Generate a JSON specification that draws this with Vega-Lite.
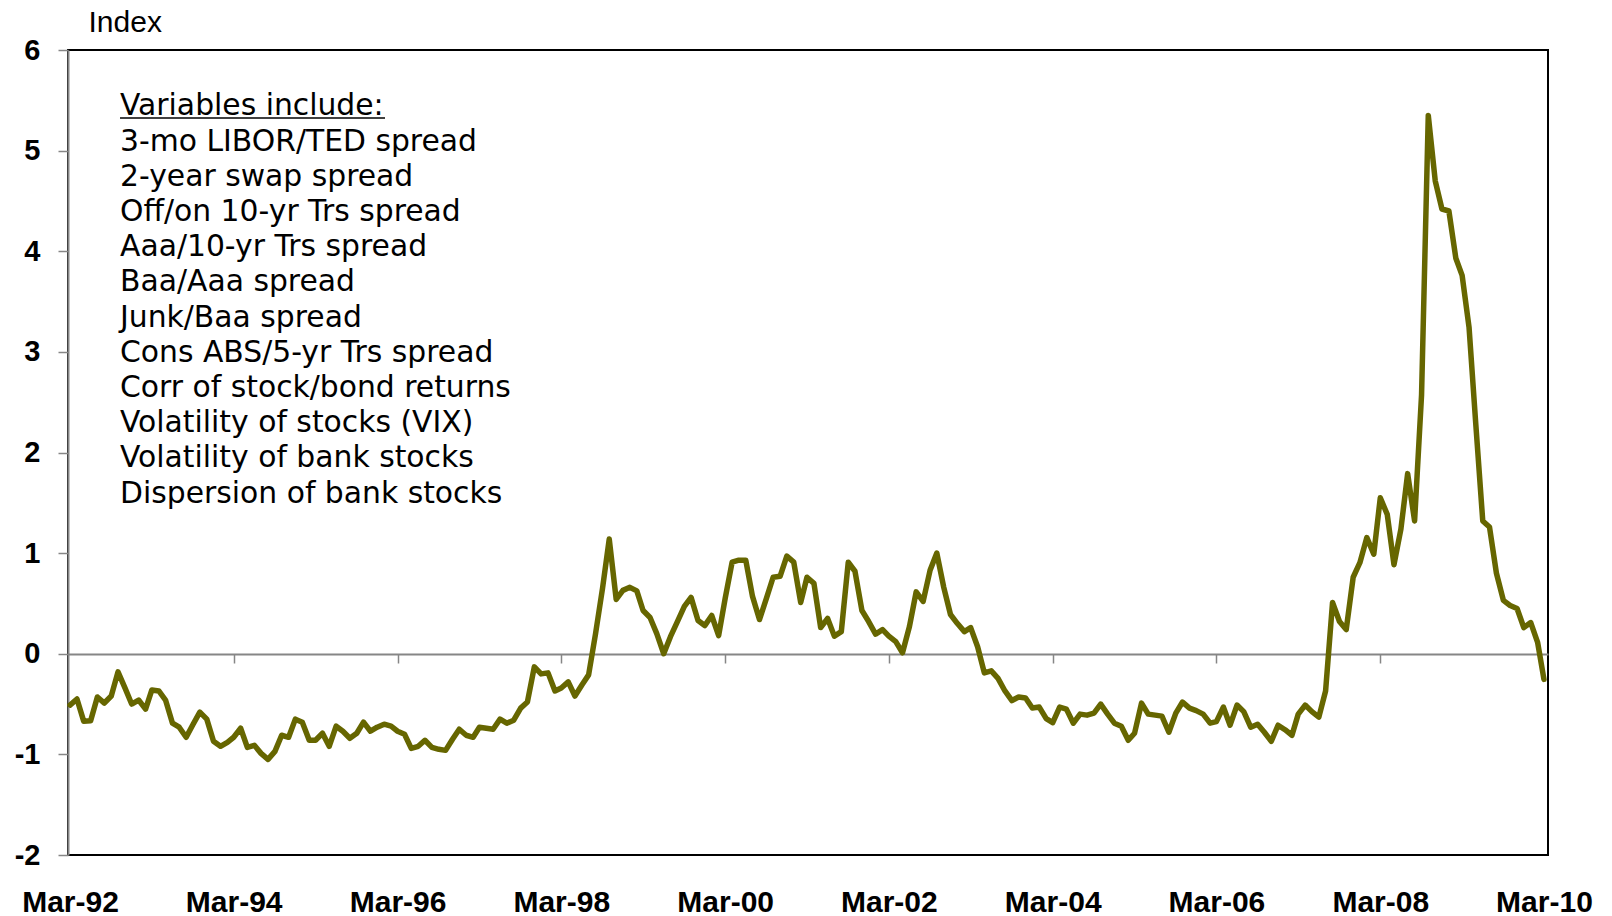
{
  "$schema": "https://vega.github.io/schema/vega-lite/v6.json",
  "width": 1480,
  "height": 805,
  "autosize": {"type": "none"},
  "padding": {"left": 68, "top": 50, "right": 64, "bottom": 61},
  "background": "white",
  "config": {"view": {"stroke": "#000000", "strokeWidth": 2}, "axis": {"grid": false}},
  "data": {"values": [
    {"date":"1992-03-01","v":-0.51},{"date":"1992-04-01","v":-0.45},{"date":"1992-05-01","v":-0.67},{"date":"1992-06-01","v":-0.665},{"date":"1992-07-01","v":-0.43},{"date":"1992-08-01","v":-0.49},{"date":"1992-09-01","v":-0.42},{"date":"1992-10-01","v":-0.18},{"date":"1992-11-01","v":-0.34},{"date":"1992-12-01","v":-0.50},
    {"date":"1993-01-01","v":-0.46},{"date":"1993-02-01","v":-0.55},{"date":"1993-03-01","v":-0.36},{"date":"1993-04-01","v":-0.37},{"date":"1993-05-01","v":-0.46},{"date":"1993-06-01","v":-0.69},{"date":"1993-07-01","v":-0.73},{"date":"1993-08-01","v":-0.83},{"date":"1993-09-01","v":-0.70},{"date":"1993-10-01","v":-0.58},{"date":"1993-11-01","v":-0.65},{"date":"1993-12-01","v":-0.87},
    {"date":"1994-01-01","v":-0.92},{"date":"1994-02-01","v":-0.88},{"date":"1994-03-01","v":-0.83},{"date":"1994-04-01","v":-0.74},{"date":"1994-05-01","v":-0.93},{"date":"1994-06-01","v":-0.91},{"date":"1994-07-01","v":-0.99},{"date":"1994-08-01","v":-1.05},{"date":"1994-09-01","v":-0.97},{"date":"1994-10-01","v":-0.81},{"date":"1994-11-01","v":-0.83},{"date":"1994-12-01","v":-0.65},
    {"date":"1995-01-01","v":-0.68},{"date":"1995-02-01","v":-0.86},{"date":"1995-03-01","v":-0.86},{"date":"1995-04-01","v":-0.79},{"date":"1995-05-01","v":-0.92},{"date":"1995-06-01","v":-0.72},{"date":"1995-07-01","v":-0.77},{"date":"1995-08-01","v":-0.84},{"date":"1995-09-01","v":-0.79},{"date":"1995-10-01","v":-0.68},{"date":"1995-11-01","v":-0.77},{"date":"1995-12-01","v":-0.73},
    {"date":"1996-01-01","v":-0.70},{"date":"1996-02-01","v":-0.72},{"date":"1996-03-01","v":-0.77},{"date":"1996-04-01","v":-0.80},{"date":"1996-05-01","v":-0.94},{"date":"1996-06-01","v":-0.92},{"date":"1996-07-01","v":-0.86},{"date":"1996-08-01","v":-0.93},{"date":"1996-09-01","v":-0.95},{"date":"1996-10-01","v":-0.96},{"date":"1996-11-01","v":-0.85},{"date":"1996-12-01","v":-0.75},
    {"date":"1997-01-01","v":-0.81},{"date":"1997-02-01","v":-0.83},{"date":"1997-03-01","v":-0.73},{"date":"1997-04-01","v":-0.74},{"date":"1997-05-01","v":-0.75},{"date":"1997-06-01","v":-0.65},{"date":"1997-07-01","v":-0.69},{"date":"1997-08-01","v":-0.66},{"date":"1997-09-01","v":-0.54},{"date":"1997-10-01","v":-0.48},{"date":"1997-11-01","v":-0.13},{"date":"1997-12-01","v":-0.20},
    {"date":"1998-01-01","v":-0.19},{"date":"1998-02-01","v":-0.37},{"date":"1998-03-01","v":-0.34},{"date":"1998-04-01","v":-0.28},{"date":"1998-05-01","v":-0.42},{"date":"1998-06-01","v":-0.31},{"date":"1998-07-01","v":-0.21},{"date":"1998-08-01","v":0.20},{"date":"1998-09-01","v":0.65},{"date":"1998-10-01","v":1.14},{"date":"1998-11-01","v":0.54},{"date":"1998-12-01","v":0.63},
    {"date":"1999-01-01","v":0.66},{"date":"1999-02-01","v":0.625},{"date":"1999-03-01","v":0.43},{"date":"1999-04-01","v":0.36},{"date":"1999-05-01","v":0.20},{"date":"1999-06-01","v":0.00},{"date":"1999-07-01","v":0.17},{"date":"1999-08-01","v":0.32},{"date":"1999-09-01","v":0.47},{"date":"1999-10-01","v":0.56},{"date":"1999-11-01","v":0.33},{"date":"1999-12-01","v":0.28},
    {"date":"2000-01-01","v":0.38},{"date":"2000-02-01","v":0.18},{"date":"2000-03-01","v":0.55},{"date":"2000-04-01","v":0.91},{"date":"2000-05-01","v":0.93},{"date":"2000-06-01","v":0.93},{"date":"2000-07-01","v":0.57},{"date":"2000-08-01","v":0.34},{"date":"2000-09-01","v":0.55},{"date":"2000-10-01","v":0.76},{"date":"2000-11-01","v":0.77},{"date":"2000-12-01","v":0.97},
    {"date":"2001-01-01","v":0.91},{"date":"2001-02-01","v":0.51},{"date":"2001-03-01","v":0.76},{"date":"2001-04-01","v":0.70},{"date":"2001-05-01","v":0.26},{"date":"2001-06-01","v":0.35},{"date":"2001-07-01","v":0.175},{"date":"2001-08-01","v":0.22},{"date":"2001-09-01","v":0.91},{"date":"2001-10-01","v":0.82},{"date":"2001-11-01","v":0.43},{"date":"2001-12-01","v":0.32},
    {"date":"2002-01-01","v":0.195},{"date":"2002-02-01","v":0.24},{"date":"2002-03-01","v":0.175},{"date":"2002-04-01","v":0.12},{"date":"2002-05-01","v":0.01},{"date":"2002-06-01","v":0.27},{"date":"2002-07-01","v":0.615},{"date":"2002-08-01","v":0.52},{"date":"2002-09-01","v":0.83},{"date":"2002-10-01","v":1.00},{"date":"2002-11-01","v":0.66},{"date":"2002-12-01","v":0.39},
    {"date":"2003-01-01","v":0.30},{"date":"2003-02-01","v":0.22},{"date":"2003-03-01","v":0.26},{"date":"2003-04-01","v":0.07},{"date":"2003-05-01","v":-0.19},{"date":"2003-06-01","v":-0.17},{"date":"2003-07-01","v":-0.245},{"date":"2003-08-01","v":-0.37},{"date":"2003-09-01","v":-0.465},{"date":"2003-10-01","v":-0.43},{"date":"2003-11-01","v":-0.44},{"date":"2003-12-01","v":-0.54},
    {"date":"2004-01-01","v":-0.53},{"date":"2004-02-01","v":-0.645},{"date":"2004-03-01","v":-0.685},{"date":"2004-04-01","v":-0.53},{"date":"2004-05-01","v":-0.55},{"date":"2004-06-01","v":-0.69},{"date":"2004-07-01","v":-0.60},{"date":"2004-08-01","v":-0.61},{"date":"2004-09-01","v":-0.59},{"date":"2004-10-01","v":-0.50},{"date":"2004-11-01","v":-0.60},{"date":"2004-12-01","v":-0.69},
    {"date":"2005-01-01","v":-0.72},{"date":"2005-02-01","v":-0.86},{"date":"2005-03-01","v":-0.79},{"date":"2005-04-01","v":-0.49},{"date":"2005-05-01","v":-0.60},{"date":"2005-06-01","v":-0.61},{"date":"2005-07-01","v":-0.62},{"date":"2005-08-01","v":-0.78},{"date":"2005-09-01","v":-0.59},{"date":"2005-10-01","v":-0.48},{"date":"2005-11-01","v":-0.54},{"date":"2005-12-01","v":-0.565},
    {"date":"2006-01-01","v":-0.60},{"date":"2006-02-01","v":-0.69},{"date":"2006-03-01","v":-0.675},{"date":"2006-04-01","v":-0.53},{"date":"2006-05-01","v":-0.71},{"date":"2006-06-01","v":-0.51},{"date":"2006-07-01","v":-0.575},{"date":"2006-08-01","v":-0.73},{"date":"2006-09-01","v":-0.70},{"date":"2006-10-01","v":-0.78},{"date":"2006-11-01","v":-0.87},{"date":"2006-12-01","v":-0.71},
    {"date":"2007-01-01","v":-0.755},{"date":"2007-02-01","v":-0.81},{"date":"2007-03-01","v":-0.60},{"date":"2007-04-01","v":-0.51},{"date":"2007-05-01","v":-0.575},{"date":"2007-06-01","v":-0.63},{"date":"2007-07-01","v":-0.37},{"date":"2007-08-01","v":0.51},{"date":"2007-09-01","v":0.32},{"date":"2007-10-01","v":0.24},{"date":"2007-11-01","v":0.76},{"date":"2007-12-01","v":0.905},
    {"date":"2008-01-01","v":1.155},{"date":"2008-02-01","v":0.99},{"date":"2008-03-01","v":1.55},{"date":"2008-04-01","v":1.385},{"date":"2008-05-01","v":0.885},{"date":"2008-06-01","v":1.24},{"date":"2008-07-01","v":1.79},{"date":"2008-08-01","v":1.32},{"date":"2008-09-01","v":2.57},{"date":"2008-10-01","v":5.35},{"date":"2008-11-01","v":4.70},{"date":"2008-12-01","v":4.42},
    {"date":"2009-01-01","v":4.40},{"date":"2009-02-01","v":3.93},{"date":"2009-03-01","v":3.76},{"date":"2009-04-01","v":3.24},{"date":"2009-05-01","v":2.28},{"date":"2009-06-01","v":1.32},{"date":"2009-07-01","v":1.26},{"date":"2009-08-01","v":0.80},{"date":"2009-09-01","v":0.53},{"date":"2009-10-01","v":0.48},{"date":"2009-11-01","v":0.45},{"date":"2009-12-01","v":0.26},
    {"date":"2010-01-01","v":0.31},{"date":"2010-02-01","v":0.11},{"date":"2010-03-01","v":-0.255}
  ]},
  "resolve": {"axis": {"x": "independent", "y": "independent"}},
  "layer": [
    {
      "mark": {"type": "line", "color": "#666600", "strokeWidth": 5.5, "strokeJoin": "round", "strokeCap": "round"},
      "encoding": {
        "x": {
          "field": "date", "type": "temporal",
          "scale": {"type": "utc", "domain": [{"year": 1992, "month": 2, "date": 21, "utc": true}, {"year": 2010, "month": 3, "date": 19, "utc": true}]},
          "axis": {
            "orient": "bottom",
            "values": [
              {"year": 1992, "month": 3, "date": 1, "utc": true},{"year": 1994, "month": 3, "date": 1, "utc": true},{"year": 1996, "month": 3, "date": 1, "utc": true},{"year": 1998, "month": 3, "date": 1, "utc": true},{"year": 2000, "month": 3, "date": 1, "utc": true},{"year": 2002, "month": 3, "date": 1, "utc": true},{"year": 2004, "month": 3, "date": 1, "utc": true},{"year": 2006, "month": 3, "date": 1, "utc": true},{"year": 2008, "month": 3, "date": 1, "utc": true},{"year": 2010, "month": 3, "date": 1, "utc": true}
            ],
            "format": "%b-%y",
            "labelFont": "Liberation Sans", "labelFontWeight": "bold", "labelFontSize": 30, "labelColor": "#000000",
            "labelBaseline": "alphabetic", "labelPadding": 56, "labelFlush": false, "labelOverlap": false,
            "ticks": false, "tickSize": 0, "domain": false, "title": null, "grid": false
          }
        },
        "y": {
          "field": "v", "type": "quantitative",
          "scale": {"domain": [-2, 6], "nice": false, "zero": false},
          "axis": {
            "orient": "left",
            "values": [-2, -1, 0, 1, 2, 3, 4, 5, 6],
            "labelExpr": "'' + datum.value",
            "labelFont": "Liberation Sans", "labelFontWeight": "bold", "labelFontSize": 29, "labelColor": "#000000",
            "labelPadding": 18, "ticks": true, "tickSize": 10, "tickColor": "#868686", "tickWidth": 1.5,
            "domain": true, "domainColor": "#868686", "domainWidth": 2, "grid": false,
            "title": "Index", "titleAngle": 0, "titleX": 20, "titleY": -19, "titleAlign": "left", "titleBaseline": "alphabetic",
            "titleFont": "Liberation Sans", "titleFontSize": 30, "titleFontWeight": "normal", "titleColor": "#000000"
          }
        }
      }
    },
    {
      "data": {"values": [{}]},
      "mark": {
        "type": "text", "font": "DejaVu Sans", "fontSize": 29.8, "lineHeight": 35.2, "align": "left", "baseline": "alphabetic", "color": "#000000",
        "text": ["Variables include:", "3-mo LIBOR/TED spread", "2-year swap spread", "Off/on 10-yr Trs spread", "Aaa/10-yr Trs spread", "Baa/Aaa spread", "Junk/Baa spread", "Cons ABS/5-yr Trs spread", "Corr of stock/bond returns", "Volatility of stocks (VIX)", "Volatility of bank stocks", "Dispersion of bank stocks"]
      },
      "encoding": {
        "x": {
          "datum": {"year": 1992, "month": 10, "date": 10, "utc": true}, "type": "temporal",
          "axis": {
            "orient": "bottom", "offset": -201, "labels": false, "title": null, "grid": false,
            "values": [
              {"year": 1994, "month": 3, "date": 1, "utc": true},{"year": 1996, "month": 3, "date": 1, "utc": true},{"year": 1998, "month": 3, "date": 1, "utc": true},{"year": 2000, "month": 3, "date": 1, "utc": true},{"year": 2002, "month": 3, "date": 1, "utc": true},{"year": 2004, "month": 3, "date": 1, "utc": true},{"year": 2006, "month": 3, "date": 1, "utc": true},{"year": 2008, "month": 3, "date": 1, "utc": true}
            ],
            "ticks": true, "tickSize": 9, "tickColor": "#868686", "tickWidth": 1.5,
            "domain": true, "domainColor": "#868686", "domainWidth": 2
          }
        },
        "y": {"datum": 5.35, "type": "quantitative", "axis": null}
      }
    },
    {
      "data": {"values": [{}]},
      "mark": {"type": "rule", "color": "#000000", "strokeWidth": 1.5},
      "encoding": {
        "x": {"datum": {"year": 1992, "month": 10, "date": 10, "utc": true}, "type": "temporal", "axis": null},
        "x2": {"datum": {"year": 1996, "month": 1, "date": 5, "utc": true}},
        "y": {"datum": 5.325, "type": "quantitative", "axis": null}
      }
    }
  ]
}
